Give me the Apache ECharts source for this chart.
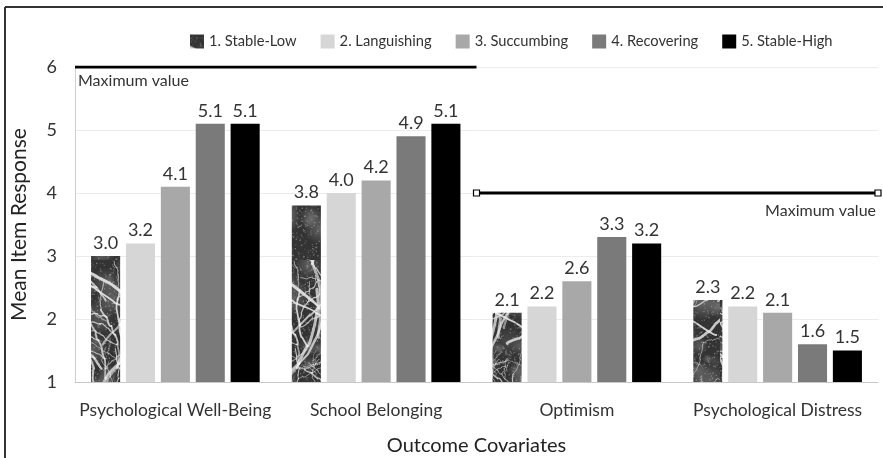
<!DOCTYPE html>
<html>
<head>
<meta charset="utf-8">
<script src="https://cdn.jsdelivr.net/npm/echarts@6/dist/echarts.min.js"></script>
<style>html,body{margin:0;padding:0;background:#fff;}#chart{width:883px;height:458px;}</style>
</head>
<body>
<div id="chart"></div>
<script>
const categories = ['Psychological Well-Being', 'School Belonging', 'Optimism', 'Psychological Distress'];
const groupNames = ['1. Stable-Low', '2. Languishing', '3. Succumbing', '4. Recovering', '5. Stable-High'];
const stableLow   = [3.0, 3.8, 2.1, 2.3];
const languishing = [3.2, 4.0, 2.2, 2.2];
const succumbing  = [4.1, 4.2, 2.6, 2.1];
const recovering  = [5.1, 4.9, 3.3, 1.6];
const stableHigh  = [5.1, 5.1, 3.2, 1.5];
const yTicks = [1, 2, 3, 4, 5, 6];
const maxValueLabel = 'Maximum value';
// maximum scale value, spanning category index ranges
const maxLineA = { from: 0, to: 2, value: 6 };
const maxLineB = { from: 2, to: 4, value: 4 };

function marble() {
  const W = 90, H = 260;
  const c = document.createElement('canvas');
  c.width = W; c.height = H;
  const g = c.getContext('2d');
  g.fillStyle = '#333'; g.fillRect(0, 0, W, H);
  let s = 98765;
  const rnd = () => { s = (s * 16807) % 2147483647; return s / 2147483647; };
  for (let i = 0; i < 70; i++) {
    const x = rnd() * W, y = rnd() * H, r = 4 + rnd() * 14;
    const gr = g.createRadialGradient(x, y, 0, x, y, r);
    const v = Math.floor(80 + rnd() * 70);
    gr.addColorStop(0, 'rgba(' + v + ',' + v + ',' + v + ',0.6)');
    gr.addColorStop(1, 'rgba(' + v + ',' + v + ',' + v + ',0)');
    g.fillStyle = gr; g.fillRect(x - r, y - r, 2 * r, 2 * r);
  }
  for (let i = 0; i < 2000; i++) {
    const v = Math.floor(70 + rnd() * 130);
    g.fillStyle = 'rgba(' + v + ',' + v + ',' + v + ',0.5)';
    g.fillRect(rnd() * W, rnd() * H, 1.3, 1.3);
  }
  function vein(x, y, ang, len, w, depth) {
    g.strokeStyle = 'rgba(235,235,235,' + (0.5 + rnd() * 0.4) + ')';
    g.lineWidth = w;
    g.lineCap = 'round';
    g.beginPath(); g.moveTo(x, y);
    const steps = 6;
    for (let k = 0; k < steps; k++) {
      ang += (rnd() - 0.5) * 0.7;
      const nx = x + Math.cos(ang) * len / steps, ny = y + Math.sin(ang) * len / steps;
      g.quadraticCurveTo(x + (rnd() - 0.5) * 5, y + (rnd() - 0.5) * 5, nx, ny);
      if (depth > 0 && rnd() < 0.35) {
        g.stroke();
        vein(nx, ny, ang + (rnd() < 0.5 ? 0.8 : -0.8), len * 0.5, Math.max(0.6, w * 0.6), depth - 1);
        g.strokeStyle = 'rgba(235,235,235,0.75)'; g.lineWidth = w;
        g.beginPath(); g.moveTo(nx, ny);
      }
      x = nx; y = ny;
    }
    g.stroke();
  }
  for (let i = 0; i < 18; i++) {
    vein(rnd() * W, rnd() * H, -Math.PI / 2 + (rnd() - 0.5) * 2.4, 60 + rnd() * 80, 1 + rnd() * 2, 2);
  }
  return c;
}

const colors = [
  { image: marble(), repeat: 'repeat' },
  '#d6d6d6', '#a8a8a8', '#7a7a7a', '#000000'
];
const seriesValues = [stableLow, languishing, succumbing, recovering, stableHigh];
const FONT = 'Lato';

const barSeries = seriesValues.map((vals, i) => ({
  name: groupNames[i],
  type: 'bar',
  xAxisIndex: 0,
  yAxisIndex: 0,
  data: vals,
  barGap: '20%',
  barCategoryGap: '16%',
  itemStyle: { color: colors[i] },
  label: {
    show: true, position: 'top', distance: 4,
    fontFamily: FONT, fontSize: 18, color: '#333',
    formatter: p => p.value.toFixed(1)
  }
}));

const chart = echarts.init(document.getElementById('chart'));
chart.setOption({
  animation: false,
  backgroundColor: '#fff',
  textStyle: { fontFamily: FONT },
  legend: {
    data: groupNames,
    left: 185, top: 29,
    itemWidth: 14, itemHeight: 14, itemGap: 24,
    icon: 'rect',
    textStyle: { fontFamily: FONT, fontSize: 14.7, color: '#333' }
  },
  grid: { left: 75, right: 5, top: 67, bottom: 76, outerBoundsMode: 'none', containLabel: false },
  xAxis: [
    {
      type: 'category', data: categories,
      name: 'Outcome Covariates', nameLocation: 'middle', nameGap: 54,
      nameTextStyle: { fontFamily: FONT, fontSize: 20, color: '#222' },
      axisLine: { lineStyle: { color: '#c8c8c8' } },
      axisTick: { show: false },
      axisLabel: { interval: 0, fontFamily: FONT, fontSize: 17.5, color: '#333', margin: 19 }
    },
    { type: 'value', min: 0, max: 4, show: false }
  ],
  yAxis: {
    type: 'value', min: yTicks[0], max: yTicks[yTicks.length - 1], interval: 1,
    name: 'Mean Item Response', nameLocation: 'middle', nameGap: 45,
    nameTextStyle: { fontFamily: FONT, fontSize: 21, color: '#222' },
    axisLine: { show: true, lineStyle: { color: '#d0d0d0' } },
    axisTick: { show: false },
    axisLabel: { fontFamily: FONT, fontSize: 18, color: '#333', margin: 18 },
    splitLine: { lineStyle: { color: '#ececec' } }
  },
  series: barSeries.concat([
    {
      type: 'line', xAxisIndex: 1, yAxisIndex: 0, silent: true,
      data: [
        { value: [maxLineA.from, maxLineA.value],
          label: { show: true, position: 'bottom', align: 'left', distance: 5, offset: [3, 0],
                   formatter: maxValueLabel, fontFamily: FONT, fontSize: 16, color: '#333' } },
        [maxLineA.to, maxLineA.value]
      ],
      symbol: 'circle', symbolSize: 1,
      itemStyle: { color: 'rgba(0,0,0,0)' },
      lineStyle: { color: '#000', width: 3 },
      z: 5
    },
    {
      type: 'line', xAxisIndex: 1, yAxisIndex: 0, silent: true,
      data: [
        [maxLineB.from, maxLineB.value],
        { value: [maxLineB.to, maxLineB.value],
          label: { show: true, position: 'bottom', align: 'right', distance: 6, offset: [-2, 0],
                   formatter: maxValueLabel, fontFamily: FONT, fontSize: 16, color: '#333' } }
      ],
      symbol: 'rect', symbolSize: 6,
      itemStyle: { color: '#fff', borderColor: '#000', borderWidth: 1.2 },
      lineStyle: { color: '#000', width: 3 },
      z: 5
    }
  ]),
  graphic: [
    { type: 'line', shape: { x1: 5, y1: 7, x2: 883, y2: 7 }, style: { stroke: '#333', lineWidth: 2 } },
    { type: 'line', shape: { x1: 5, y1: 7, x2: 5, y2: 458 }, style: { stroke: '#333', lineWidth: 2 } }
  ]
});
</script>
</body>
</html>
